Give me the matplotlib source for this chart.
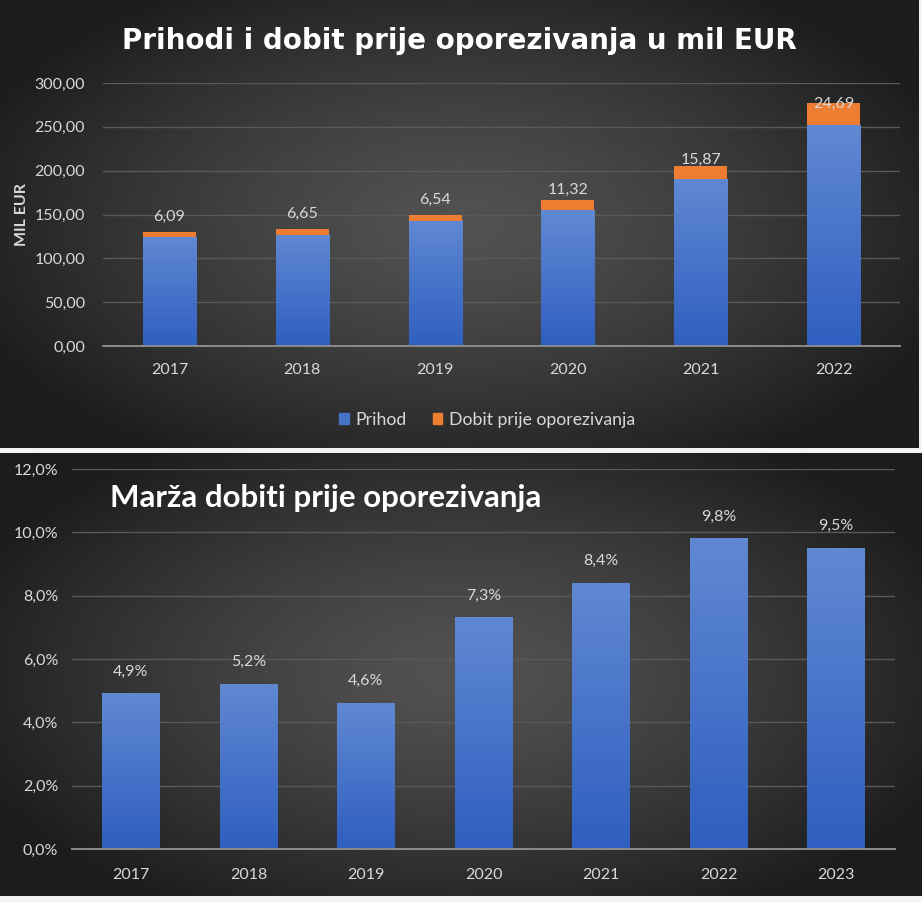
import matplotlib
matplotlib.use("Agg")
import matplotlib.pyplot as plt
from matplotlib.colors import LinearSegmentedColormap
from matplotlib.patches import Patch
import numpy as np

# podaci
YEARS_TOP = ["2017", "2018", "2019", "2020", "2021", "2022"]
PRIHOD = [124.0, 127.0, 143.0, 155.0, 190.0, 252.0]
DOBIT = [6.09, 6.65, 6.54, 11.32, 15.87, 24.69]
Y_TICKS_TOP = [0, 50, 100, 150, 200, 250, 300]

YEARS_BOTTOM = ["2017", "2018", "2019", "2020", "2021", "2022", "2023"]
MARZA = [4.9, 5.2, 4.6, 7.3, 8.4, 9.8, 9.5]
Y_TICKS_BOTTOM = [0, 2, 4, 6, 8, 10, 12]

TITLE_TOP = "Prihodi i dobit prije oporezivanja u mil EUR"
TITLE_BOTTOM = "Marža dobiti prije oporezivanja"

W, H = 922, 902
TEXT_GRAY = "#d9d9d9"
GRID_GRAY = "#595959"
AXIS_GRAY = "#8c8c8c"
ORANGE = "#ed7d31"
BLUE_TOP = "#6088d2"
BLUE_BOTTOM = "#2f5fc0"
FONT = ["Lato", "DejaVu Sans"]

plt.rcParams["font.family"] = FONT

bg_cmap = LinearSegmentedColormap.from_list("bg", ["#1c1c1c", "#525252"])
bar_cmap = LinearSegmentedColormap.from_list("bar", [BLUE_BOTTOM, BLUE_TOP])


def px_rect(x0, y0, x1, y1):
    # pixel box (od gornjeg lijevog kuta) -> figure fraction
    return [x0 / W, 1 - y1 / H, (x1 - x0) / W, (y1 - y0) / H]


def panel_background(fig, rect):
    ax = fig.add_axes(rect, zorder=0)
    gx, gy = np.meshgrid(np.linspace(-1, 1, 300), np.linspace(-1, 1, 300))
    r = np.clip(np.sqrt((gx / 1.15) ** 2 + (gy / 1.25) ** 2), 0, 1)
    ax.imshow(1 - r ** 1.3, cmap=bg_cmap, aspect="auto", extent=[0, 1, 0, 1],
              vmin=0, vmax=1)
    ax.set_axis_off()
    return ax


def gradient_bars(ax, bars):
    grad = np.linspace(0, 1, 100).reshape(-1, 1)
    for bar in bars:
        x, y = bar.get_x(), bar.get_y()
        w, h = bar.get_width(), bar.get_height()
        ax.imshow(grad, cmap=bar_cmap, aspect="auto", origin="lower",
                  extent=[x, x + w, y, y + h], zorder=2)
        bar.set_visible(False)


def style_axes(ax, xpad, ypad):
    ax.set_facecolor("none")
    for side in ("top", "right", "left"):
        ax.spines[side].set_visible(False)
    ax.spines["bottom"].set_color(AXIS_GRAY)
    ax.spines["bottom"].set_linewidth(1.4)
    ax.spines["bottom"].set_zorder(4)
    ax.tick_params(axis="both", length=0, colors=TEXT_GRAY, labelsize=11.5)
    ax.tick_params(axis="x", pad=xpad)
    ax.tick_params(axis="y", pad=ypad)
    ax.grid(axis="y", color=GRID_GRAY, linewidth=1.0, zorder=0)
    ax.set_axisbelow(True)


fig = plt.figure(figsize=(W / 100, H / 100), dpi=100)
fig.patch.set_facecolor("#f2f2f2")

# ---------- gornji graf ----------
panel_background(fig, px_rect(0, 0, 918, 448))
ax1 = fig.add_axes(px_rect(103, 83, 900, 346), zorder=1)
style_axes(ax1, xpad=12, ypad=13)
x1 = np.arange(len(YEARS_TOP))
b_prihod = ax1.bar(x1, PRIHOD, width=0.4, color=BLUE_BOTTOM, zorder=2)
b_dobit = ax1.bar(x1, DOBIT, width=0.4, bottom=PRIHOD, color=ORANGE, zorder=3)
gradient_bars(ax1, b_prihod)
ax1.set_xlim(-0.5, len(YEARS_TOP) - 0.5)
ax1.set_ylim(0, 300)
ax1.set_xticks(x1)
ax1.set_xticklabels(YEARS_TOP)
ax1.set_yticks(Y_TICKS_TOP)
ax1.set_yticklabels([f"{v:.2f}".replace(".", ",") for v in Y_TICKS_TOP])
ax1.set_ylabel("MIL EUR", color=TEXT_GRAY, fontsize=11.5, fontweight="bold",
               labelpad=4)

label_offsets = [11, 11, 11, 7.5, 4, 0]
for xi, p, d, off in zip(x1, PRIHOD, DOBIT, label_offsets):
    ax1.annotate(f"{d:.2f}".replace(".", ","), (xi, p + d),
                 xytext=(0, off), textcoords="offset points",
                 ha="center", va="center", color=TEXT_GRAY, fontsize=11.5,
                 zorder=5)

fig.text(459 / W, 1 - 41 / H, TITLE_TOP, ha="center", va="center",
         color="white", fontsize=20, fontweight="bold",
         family=["DejaVu Sans"])

fig.legend(handles=[Patch(color="#4472c4", label="Prihod"),
                    Patch(color=ORANGE, label="Dobit prije oporezivanja")],
           loc="center", bbox_to_anchor=(487 / W, 1 - 420 / H), ncol=2,
           frameon=False, fontsize=12.7, labelcolor=TEXT_GRAY,
           handlelength=0.55, handleheight=0.55, handletextpad=0.35,
           columnspacing=1.5)

# ---------- donji graf ----------
panel_background(fig, px_rect(0, 453, 922, 896))
ax2 = fig.add_axes(px_rect(72, 469, 895, 849), zorder=1)
style_axes(ax2, xpad=14, ypad=10)
x2 = np.arange(len(YEARS_BOTTOM))
b_marza = ax2.bar(x2, MARZA, width=0.49, color=BLUE_BOTTOM, zorder=2)
gradient_bars(ax2, b_marza)
ax2.set_xlim(-0.5, len(YEARS_BOTTOM) - 0.5)
ax2.set_ylim(0, 12)
ax2.set_xticks(x2)
ax2.set_xticklabels(YEARS_BOTTOM)
ax2.set_yticks(Y_TICKS_BOTTOM)
ax2.set_yticklabels([f"{v:.1f}%".replace(".", ",") for v in Y_TICKS_BOTTOM])

for xi, m in zip(x2, MARZA):
    ax2.annotate(f"{m:.1f}%".replace(".", ","), (xi, m),
                 xytext=(0, 16), textcoords="offset points",
                 ha="center", va="center", color=TEXT_GRAY, fontsize=11.5,
                 zorder=5)

fig.text(110 / W, 1 - 498 / H, TITLE_BOTTOM, ha="left", va="center",
         color="white", fontsize=22.5, fontweight="bold")

fig.savefig("out.png", dpi=100, facecolor=fig.get_facecolor())
